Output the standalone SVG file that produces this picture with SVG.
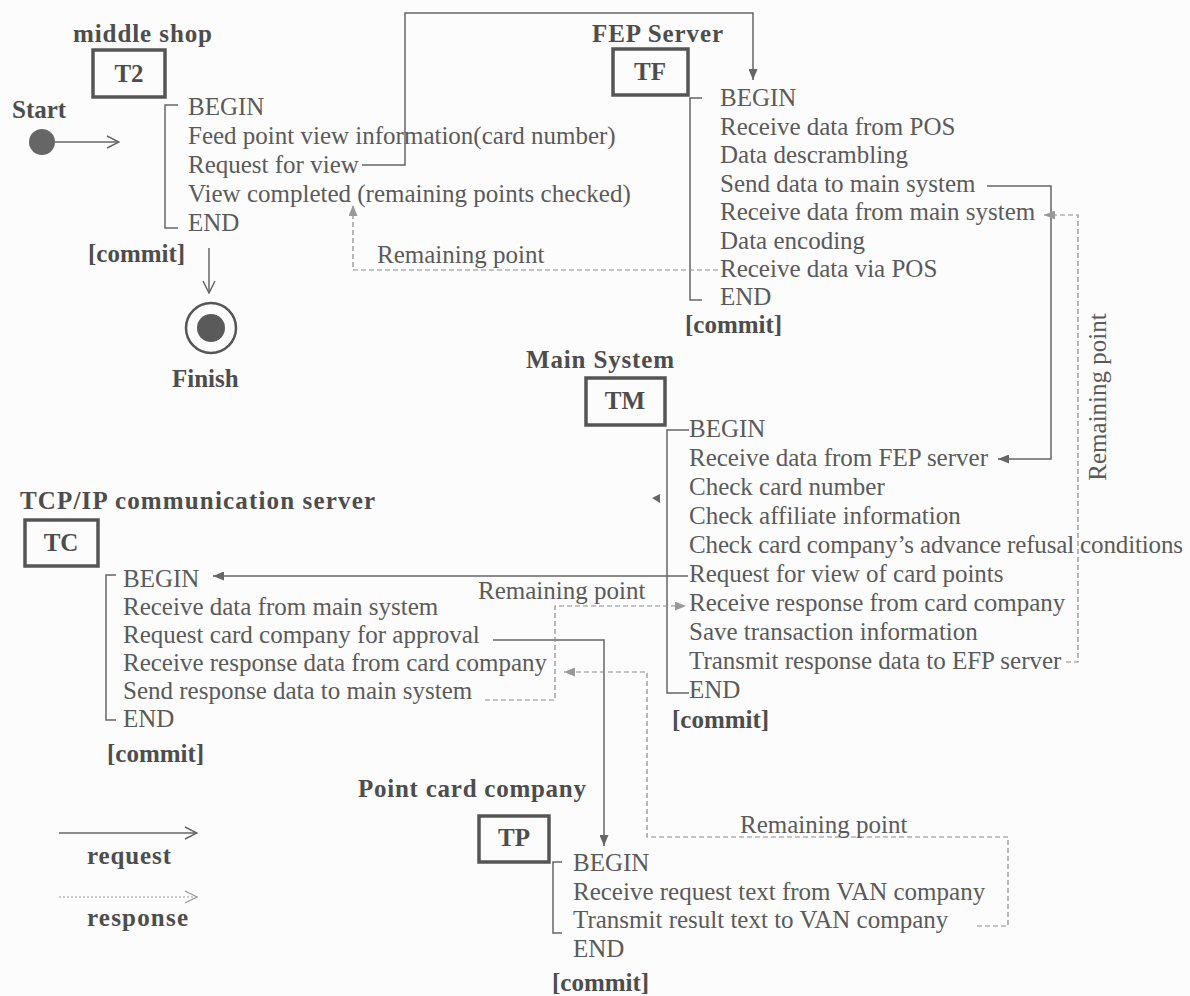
<svg xmlns="http://www.w3.org/2000/svg" width="1190" height="996" viewBox="0 0 1190 996">
  <style>
    .body { font-family: "Liberation Serif", "Times New Roman", serif; font-size: 25px; fill: #5a5a5a; }
    .lbl { font-family: "Liberation Serif", "Times New Roman", serif; font-size: 25px; font-weight: bold; fill: #4d4d4d; }
    .box { fill: none; stroke: #555; stroke-width: 3.5; }
    .brk { fill: none; stroke: #666; stroke-width: 1.5; }
    .req { fill: none; stroke: #666; stroke-width: 1.5; }
    .res { fill: none; stroke: #8a8a8a; stroke-width: 1.2; stroke-dasharray: 5 3; }
  </style>
  <defs>
    <marker id="tri" viewBox="0 0 11 9" refX="11" refY="4.5" markerWidth="11" markerHeight="9" markerUnits="userSpaceOnUse" orient="auto">
      <path d="M0,0 L11,4.5 L0,9 z" fill="#666"/>
    </marker>
    <marker id="triLight" viewBox="0 0 11 9" refX="11" refY="4.5" markerWidth="11" markerHeight="9" markerUnits="userSpaceOnUse" orient="auto">
      <path d="M0,0 L11,4.5 L0,9 z" fill="#999"/>
    </marker>
    <marker id="chev" viewBox="0 0 14 14" refX="13" refY="7" markerWidth="14" markerHeight="14" markerUnits="userSpaceOnUse" orient="auto">
      <path d="M1,1 L13,7 L1,13" fill="none" stroke="#666" stroke-width="1.5"/>
    </marker>
    <marker id="chevLight" viewBox="0 0 14 14" refX="13" refY="7" markerWidth="14" markerHeight="14" markerUnits="userSpaceOnUse" orient="auto">
      <path d="M1,1 L13,7 L1,13" fill="none" stroke="#999" stroke-width="1.3"/>
    </marker>
  </defs>

  <rect width="1190" height="996" fill="#fcfcfc"/>

  <!-- Start / Finish -->
  <g id="start">
    <text class="lbl" x="12" y="118">Start</text>
    <circle cx="42" cy="142" r="13" fill="#666"/>
  </g>
  <g id="finish">
    <circle cx="211" cy="328" r="25" fill="none" stroke="#555" stroke-width="2.5"/>
    <circle cx="211" cy="328" r="14" fill="#5a5a5a"/>
    <text class="lbl" x="172" y="387">Finish</text>
  </g>

  <!-- Middle shop transaction -->
  <g id="node-t2">
    <text class="lbl" x="73" y="42" textLength="139">middle  shop</text>
    <rect class="box" x="93" y="50" width="72" height="47"/>
    <text class="lbl" x="129" y="82" text-anchor="middle">T2</text>
    <path class="brk" d="M178,105 H165 V228 H178"/>
    <text class="body" x="188" y="115">BEGIN</text>
    <text class="body" x="188" y="144">Feed point  view information(card number)</text>
    <text class="body" x="188" y="173">Request for view</text>
    <text class="body" x="188" y="202">View completed (remaining points checked)</text>
    <text class="body" x="188" y="231">END</text>
    <text class="lbl" x="88" y="262">[commit]</text>
  </g>

  <!-- FEP server transaction -->
  <g id="node-tf">
    <text class="lbl" x="592" y="42" textLength="131">FEP Server</text>
    <rect class="box" x="613" y="49" width="75" height="46"/>
    <text class="lbl" x="650" y="80" text-anchor="middle">TF</text>
    <path class="brk" d="M702,98 H690 V300 H702"/>
    <text class="body" x="720" y="106">BEGIN</text>
    <text class="body" x="720" y="134.5">Receive data from POS</text>
    <text class="body" x="720" y="163">Data descrambling</text>
    <text class="body" x="720" y="191.5">Send data to main  system</text>
    <text class="body" x="720" y="220">Receive data from main  system</text>
    <text class="body" x="720" y="248.5">Data encoding</text>
    <text class="body" x="720" y="277">Receive data via POS</text>
    <text class="body" x="720" y="305">END</text>
    <text class="lbl" x="685" y="333">[commit]</text>
  </g>

  <!-- Main system transaction -->
  <g id="node-tm">
    <text class="lbl" x="526" y="368" textLength="148">Main System</text>
    <rect class="box" x="586" y="378" width="79" height="47"/>
    <text class="lbl" x="625" y="409" text-anchor="middle">TM</text>
    <path class="brk" d="M689,430 H667 V693 H689"/>
    <path d="M660,494 L652,498 L660,503 z" fill="#666"/>
    <text class="body" x="689" y="437">BEGIN</text>
    <text class="body" x="689" y="466">Receive data from FEP server</text>
    <text class="body" x="689" y="495">Check card number</text>
    <text class="body" x="689" y="524">Check affiliate  information</text>
    <text class="body" x="689" y="553" textLength="494">Check card company’s  advance refusal conditions</text>
    <text class="body" x="689" y="582">Request for view  of card points</text>
    <text class="body" x="689" y="611">Receive response from card company</text>
    <text class="body" x="689" y="640">Save transaction information</text>
    <text class="body" x="689" y="669">Transmit response data to EFP server</text>
    <text class="body" x="689" y="698">END</text>
    <text class="lbl" x="672" y="728">[commit]</text>
  </g>

  <!-- TCP/IP communication server transaction -->
  <g id="node-tc">
    <text class="lbl" x="20" y="509" textLength="355">TCP/IP  communication  server</text>
    <rect class="box" x="25" y="520" width="73" height="46"/>
    <text class="lbl" x="61" y="551" text-anchor="middle">TC</text>
    <path class="brk" d="M116,575 H106 V720 H116"/>
    <text class="body" x="123" y="587">BEGIN</text>
    <text class="body" x="123" y="615">Receive data from main  system</text>
    <text class="body" x="123" y="643">Request card company  for approval</text>
    <text class="body" x="123" y="671">Receive response data from card company</text>
    <text class="body" x="123" y="699">Send response data to main  system</text>
    <text class="body" x="123" y="727">END</text>
    <text class="lbl" x="107" y="762">[commit]</text>
  </g>

  <!-- Point card company transaction -->
  <g id="node-tp">
    <text class="lbl" x="358" y="797" textLength="228">Point  card  company</text>
    <rect class="box" x="479" y="816" width="70" height="46"/>
    <text class="lbl" x="514" y="846" text-anchor="middle">TP</text>
    <path class="brk" d="M562,862 H553 V933 H562"/>
    <text class="body" x="573" y="871">BEGIN</text>
    <text class="body" x="573" y="900">Receive request text from VAN company</text>
    <text class="body" x="573" y="928">Transmit result text to VAN company</text>
    <text class="body" x="573" y="957">END</text>
    <text class="lbl" x="552" y="991">[commit]</text>
  </g>

  <!-- Legend -->
  <g id="legend">
    <line class="req" x1="59" y1="833" x2="197" y2="833" marker-end="url(#chev)"/>
    <text class="lbl" x="87" y="864" textLength="84" fill="#555">request</text>
    <line x1="59" y1="897" x2="197" y2="897" stroke="#999" stroke-width="1.2" stroke-dasharray="2 2" marker-end="url(#chevLight)"/>
    <text class="lbl" x="87" y="926" textLength="101" fill="#555">response</text>
  </g>

  <!-- Connectors -->
  <g id="connectors">
    <!-- start into T2, T2 commit to finish -->
    <line class="req" x1="55" y1="142" x2="119" y2="142" marker-end="url(#chev)"/>
    <line class="req" x1="209" y1="248" x2="209" y2="293" marker-end="url(#chev)"/>

    <!-- requests -->
    <path class="req" d="M362,165 H405 V13 H753 V80" marker-end="url(#tri)"/>
    <path class="req" d="M987,186 H1051 V459 H998" marker-end="url(#tri)"/>
    <path class="req" d="M688,576 H213" marker-end="url(#tri)"/>
    <path class="req" d="M493,640 H604 V846" marker-end="url(#tri)"/>

    <!-- responses -->
    <path class="res" d="M718,270 H353 V205" marker-end="url(#triLight)"/>
    <text class="body" x="377" y="263">Remaining  point</text>

    <path class="res" d="M1066,662 H1078 V215 H1044" marker-end="url(#triLight)"/>
    <text class="body" transform="translate(1106,397) rotate(-90)" text-anchor="middle">Remaining  point</text>

    <path class="res" d="M485,700 H555 V606 H686" marker-end="url(#triLight)"/>
    <text class="body" x="478" y="599">Remaining  point</text>

    <path class="res" d="M977,926 H1008 V837 H647 V672 H564" marker-end="url(#triLight)"/>
    <text class="body" x="740" y="833">Remaining  point</text>
  </g>
</svg>
